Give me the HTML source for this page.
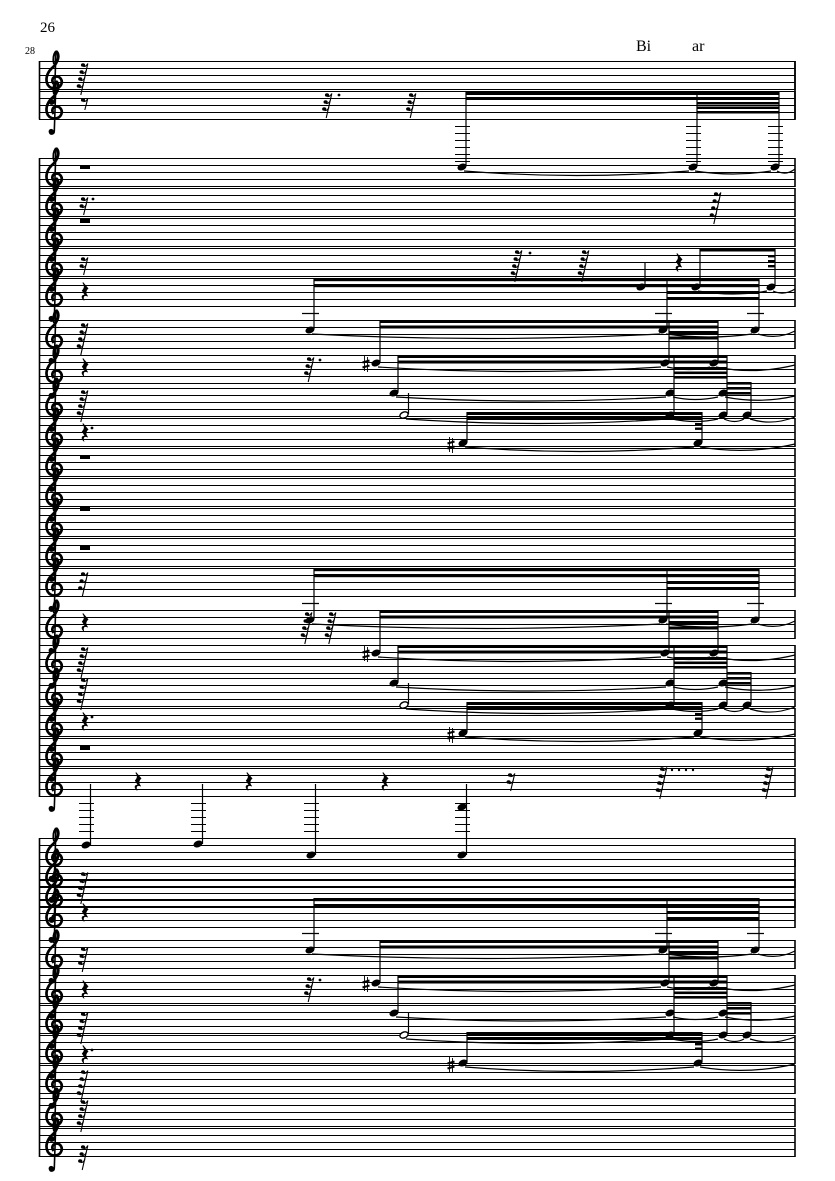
<!DOCTYPE html>
<html><head><meta charset="utf-8"><style>html,body{margin:0;padding:0;background:#fff}svg{display:block}</style></head>
<body>
<svg width="835" height="1181" viewBox="0 0 835 1181" xmlns="http://www.w3.org/2000/svg">
<defs>
<g id="clef">
<path d="M10,-10 C14,-6.5 13,1 5.5,7.5 C0.5,12.5 -0.8,19 1.8,23.8 C5,29 13,28.5 15.2,23.5 C17,19.5 14.2,15.2 10,15.6 C6.3,16 5.2,20 7.8,22.8" fill="none" stroke="#000" stroke-width="2.7"/>
<path d="M10,-10 L8.3,40 C8.3,43.5 4.5,44 3.6,41.5" fill="none" stroke="#000" stroke-width="1.6"/>
<path d="M10,-10 C7,-6 7,-1 8,3" fill="none" stroke="#000" stroke-width="2"/>
<circle cx="5.2" cy="40.5" r="2.6"/>
</g>
<g id="st">
<path d="M39,0.5H795M39,7.5H795M39,14.5H795M39,21.5H795M39,28.5H795" stroke="#000" stroke-width="1"/>
<path d="M795,0V29" stroke="#000" stroke-width="1.6"/>
<use href="#clef" x="46"/>
</g>
<g id="fl"><ellipse cx="2" cy="2" rx="2.1" ry="1.8"/><path d="M2.5,3.6 Q5,3.8 6.8,0.5" fill="none" stroke="#000" stroke-width="1.1"/></g>
<g id="r1"><path d="M6.8,0.5 L3.8,12" stroke="#000" stroke-width="1.1"/><use href="#fl"/></g>
<g id="r2"><path d="M6.8,0.5 L2.6,18" stroke="#000" stroke-width="1.1"/><use href="#fl"/><use href="#fl" x="-1.4" y="7"/></g>
<g id="r3"><path d="M6.8,0.5 L1.2,25" stroke="#000" stroke-width="1.1"/><use href="#fl"/><use href="#fl" x="-1.4" y="7"/><use href="#fl" x="-2.8" y="14"/></g>
<g id="r4"><path d="M6.8,0.5 L-0.2,32" stroke="#000" stroke-width="1.1"/><use href="#fl"/><use href="#fl" x="-1.4" y="7"/><use href="#fl" x="-2.8" y="14"/><use href="#fl" x="-4.2" y="21"/></g>
<g id="rq"><path d="M2,0 L7.5,6.5 C5,8.5 4.5,11 7,14 L6.5,14.5 C4,13 1.5,14 3.5,19 C0,17 -0.5,12.5 3.5,12.8 L0.8,8.5 C3,6.5 3.8,4 1.5,1 Z"/></g>
<g id="nh"><ellipse cx="0" cy="0" rx="4.7" ry="3.3" transform="rotate(-22)"/></g>
<g id="sh"><path d="M-1.5,-8V7M1.5,-7V8" stroke="#000" stroke-width="0.9"/><path d="M-3.5,-1.5L3.5,-3.5M-3.5,3.5L3.5,1.5" stroke="#000" stroke-width="2"/></g>

<g id="pat">
<rect x="314" y="278" width="445" height="3.2"/>
<rect x="314" y="284" width="445" height="3.2"/>
<rect x="667" y="291" width="92" height="3"/>
<rect x="667" y="297" width="92" height="3"/>
<rect x="380" y="320" width="338" height="3"/>
<rect x="380" y="325.5" width="338" height="3"/>
<rect x="669" y="331" width="49" height="3"/>
<rect x="669" y="336.5" width="49" height="3"/>
<rect x="398" y="355" width="329" height="3"/>
<rect x="398" y="360.5" width="329" height="3"/>
<rect x="674" y="367" width="53" height="2.6"/>
<rect x="674" y="371.5" width="53" height="2.6"/>
<rect x="674" y="376" width="53" height="2.6"/>
<rect x="727" y="382" width="24" height="2.6"/>
<rect x="727" y="387" width="24" height="2.6"/>
<rect x="727" y="392" width="24" height="2.6"/>
<rect x="467" y="412" width="235" height="3"/>
<rect x="467" y="417" width="235" height="3"/>
<rect x="695" y="423" width="7" height="2.4"/>
<rect x="695" y="427.5" width="7" height="2.4"/>
<path d="M314,278V329M667,278V329M759,278V329M380,320V362M669,320V362M718,320V362M398,355V392M674,355V414M727,355V414M751,382V414M408.5,393V414M467,412V442M702,412V442" stroke="#000" stroke-width="1.2"/>
<path d="M302,313.5H319M655,313.5H672M747,313.5H764" stroke="#000" stroke-width="1.2"/>
<use href="#nh" x="310" y="330"/><use href="#nh" x="663" y="330"/><use href="#nh" x="755" y="330"/>
<use href="#nh" x="376" y="363"/><use href="#nh" x="665" y="363"/><use href="#nh" x="714" y="363"/>
<use href="#nh" x="394" y="393"/><use href="#nh" x="670" y="393"/><use href="#nh" x="723" y="393"/>
<use href="#nh" x="747" y="415"/><use href="#nh" x="670" y="415"/><use href="#nh" x="723" y="415"/>
<use href="#nh" x="463" y="443"/><use href="#nh" x="698" y="443"/>
<ellipse cx="404" cy="415" rx="4.3" ry="2.9" transform="rotate(-22 404 415)" fill="#fff" stroke="#000" stroke-width="1.4"/>
<use href="#sh" x="366" y="364"/><use href="#sh" x="451" y="445"/>
<path d="M312,334 Q486,343 660,334 M666,334 Q709,340 752,334 M758,334 Q777,340 795,331
M378,367 Q520,376 661,367 M667,367 Q690,372 710,367 M716,367 Q755,375 795,365
M396,397 Q530,405 666,397 M673,397 Q695,402 718,397 M725,397 Q760,404 795,396
M406,419 Q540,428 667,419 M672,419 Q696,424 718,419 M724,419 Q735,424 744,419 M750,419 Q772,426 795,417
M465,447 Q580,456 694,447 M700,447 Q748,455 795,444" fill="none" stroke="#000" stroke-width="1.2"/>
</g>
</defs>

<rect width="835" height="1181" fill="#fff"/>

<text x="40" y="32" font-family="Liberation Serif, serif" font-size="15">26</text>
<text x="25" y="54" font-family="Liberation Serif, serif" font-size="10">28</text>
<text x="636" y="51" font-family="Liberation Serif, serif" font-size="16">Bi</text>
<text x="692" y="51" font-family="Liberation Serif, serif" font-size="16">ar</text>

<use href="#st" y="61"/><use href="#st" y="91"/>
<use href="#st" y="158"/><use href="#st" y="188"/><use href="#st" y="218"/><use href="#st" y="248"/><use href="#st" y="278"/>
<use href="#st" y="320"/><use href="#st" y="355"/><use href="#st" y="388"/><use href="#st" y="418"/><use href="#st" y="448"/>
<use href="#st" y="478"/><use href="#st" y="508"/><use href="#st" y="538"/><use href="#st" y="568"/><use href="#st" y="610"/>
<use href="#st" y="645"/><use href="#st" y="678"/><use href="#st" y="708"/><use href="#st" y="738"/><use href="#st" y="768"/>
<use href="#st" y="838"/><use href="#st" y="859"/><use href="#st" y="879"/><use href="#st" y="899"/><use href="#st" y="940"/>
<use href="#st" y="975"/><use href="#st" y="1005"/><use href="#st" y="1035"/><use href="#st" y="1065"/><use href="#st" y="1098"/><use href="#st" y="1128"/>
<path d="M39.5,61V119.5M39.5,158V797M39.5,838V1157M795,61V119" stroke="#000" stroke-width="1.6"/>

<use href="#r4" x="81" y="63"/><use href="#r1" x="81" y="98"/>
<rect x="80" y="165" width="10" height="4"/>
<use href="#r2" x="81" y="197"/><circle cx="93" cy="199" r="1.4"/>
<rect x="80" y="219" width="10" height="4"/>
<use href="#r2" x="81" y="257"/>
<use href="#rq" x="81" y="282"/>
<use href="#r4" x="81" y="323"/>
<use href="#rq" x="81" y="358"/>
<use href="#r4" x="81" y="390"/>
<use href="#rq" x="81" y="423"/><circle cx="92" cy="428" r="1.4"/>
<rect x="80" y="455" width="10" height="4"/>
<rect x="80" y="507" width="10" height="4"/>
<rect x="80" y="546" width="10" height="4"/>
<use href="#r3" x="81" y="572"/>
<use href="#rq" x="81" y="613"/>
<use href="#r4" x="81" y="647"/><use href="#r4" x="81" y="678"/>
<use href="#rq" x="81" y="712"/><circle cx="92" cy="717" r="1.4"/>
<rect x="80" y="746" width="10" height="4"/>
<use href="#r4" x="81" y="872"/><use href="#rq" x="81" y="903"/>
<use href="#r3" x="81" y="947"/><use href="#rq" x="81" y="980"/>
<use href="#r4" x="81" y="1012"/><use href="#rq" x="81" y="1045"/><circle cx="92" cy="1050" r="1.4"/>
<use href="#r4" x="81" y="1070"/><use href="#r4" x="81" y="1100"/>
<use href="#r3" x="81" y="1145"/>

<use href="#r3" x="325" y="93"/><circle cx="339" cy="95" r="1.4"/>
<use href="#r3" x="409" y="93"/>
<rect x="466" y="92" width="313" height="3"/>
<rect x="466" y="97" width="313" height="3"/>
<rect x="697" y="102" width="82" height="2.5"/>
<rect x="697" y="106.5" width="82" height="2.5"/>
<rect x="697" y="111" width="82" height="2.5"/>
<path d="M466,92V166M697,92V166M779,92V166" stroke="#000" stroke-width="1.2"/>
<path d="M455,126.5H470M455,133.5H470M455,140.5H470M455,147.5H470M455,154.5H470M455,161.5H470
M686,126.5H701M686,133.5H701M686,140.5H701M686,147.5H701M686,154.5H701M686,161.5H701
M768,126.5H783M768,133.5H783M768,140.5H783M768,147.5H783M768,154.5H783M768,161.5H783" stroke="#000" stroke-width="1.1"/>
<use href="#nh" x="462" y="167"/><use href="#nh" x="693" y="167"/><use href="#nh" x="775" y="167"/>
<path d="M464,171 Q577,180 689,171 M695,171 Q733,177 771,171 M777,171 Q786,176 795,169" fill="none" stroke="#000" stroke-width="1.2"/>

<use href="#r4" x="714" y="192"/>

<use href="#r4" x="515" y="250"/><circle cx="530" cy="253" r="1.4"/>
<use href="#r4" x="582" y="250"/>
<use href="#rq" x="675" y="253"/>
<rect x="700" y="248" width="75" height="3.5"/>
<rect x="768" y="255" width="7" height="2.4"/>
<rect x="768" y="260" width="7" height="2.4"/>
<rect x="768" y="265" width="7" height="2.4"/>
<path d="M700,248V286M775,248V286M645,262V286" stroke="#000" stroke-width="1.2"/>
<use href="#nh" x="696" y="287"/><use href="#nh" x="771" y="287"/><use href="#nh" x="641" y="287"/>
<path d="M698,291 Q734,297 767,291 M773,291 Q784,296 795,289" fill="none" stroke="#000" stroke-width="1.2"/>
<use href="#r3" x="307" y="357"/><circle cx="320" cy="360" r="1.4"/>

<use href="#pat"/>
<use href="#pat" y="290"/>
<use href="#pat" y="620"/>

<use href="#r4" x="305" y="612"/><use href="#r4" x="329" y="612"/>
<use href="#r3" x="307" y="977"/><circle cx="320" cy="980" r="1.4"/>

<use href="#rq" x="134" y="772"/><use href="#rq" x="245" y="772"/><use href="#rq" x="381" y="772"/>
<use href="#r2" x="508" y="773"/>
<use href="#r4" x="660" y="767"/>
<circle cx="672" cy="770" r="1.2"/><circle cx="679" cy="770" r="1.2"/><circle cx="686" cy="770" r="1.2"/><circle cx="693" cy="770" r="1.2"/>
<use href="#r4" x="766" y="767"/>
<path d="M90.5,784V845M202.5,784V844M315.5,784V855M466.5,784V855" stroke="#000" stroke-width="1.2"/>
<path d="M79,803.5H94M79,810.5H94M79,817.5H94M79,824.5H94M79,831.5H94
M191,803.5H206M191,810.5H206M191,817.5H206M191,824.5H206M191,831.5H206
M304,803.5H319M304,810.5H319M304,817.5H319M304,824.5H319M304,831.5H319
M455,803.5H470M455,810.5H470M455,817.5H470M455,824.5H470M455,831.5H470" stroke="#000" stroke-width="1.1"/>
<use href="#nh" x="86" y="845"/><use href="#nh" x="198" y="844"/><use href="#nh" x="311" y="855"/>
<use href="#nh" x="462" y="855"/><use href="#nh" x="462" y="807"/>
</svg>
</body></html>
